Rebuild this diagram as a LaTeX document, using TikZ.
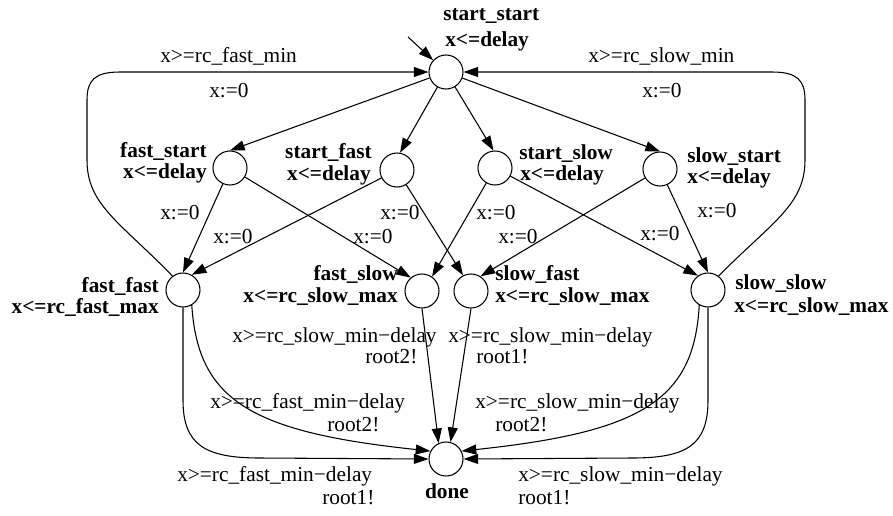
\documentclass[tikz,border=0pt]{standalone}
\usepackage{fontspec}
\setmainfont{Liberation Serif}
\usetikzlibrary{arrows.meta}

\begin{document}
\begin{tikzpicture}
        [x=0.75pt, y=-0.75pt,
        loc/.style={circle, draw, line width=0.8pt, minimum size=25.5pt, inner sep=0pt},
        locname/.style={font=\fontsize{16}{19}\selectfont\bfseries, inner sep=0pt},
        guard/.style={font=\fontsize{16}{19}\selectfont, inner sep=0pt},
        trans/.style={line width=0.8pt, -{Triangle[length=11pt, width=7.5pt]}}]
        \useasboundingbox (0,0) rectangle (893,515);

        \node[loc] (start_start) at (446,72) {};
        \node[loc] (fast_start) at (230,168) {};
        \node[loc] (start_fast) at (397,170) {};
        \node[loc] (start_slow) at (495,168) {};
        \node[loc] (slow_start) at (660,169) {};
        \node[loc] (fast_fast) at (183,290) {};
        \node[loc] (fast_slow) at (422,291) {};
        \node[loc] (slow_fast) at (471,291) {};
        \node[loc] (slow_slow) at (708,290) {};
        \node[loc] (done) at (446,459) {};

        % names and invariants
        \node[locname, anchor=base west] (ss_name) at (443,20) {start\_start};
        \node[locname, anchor=base west] (ss_inv) at (445,46) {x<=delay};
        \node[locname, anchor=base east] (fs_name) at (207,157) {fast\_start};
        \node[locname, anchor=base east] (fs_inv) at (207,178) {x<=delay};
        \node[locname, anchor=base east] (sf_name) at (372,158) {start\_fast};
        \node[locname, anchor=base east] (sf_inv) at (371,180) {x<=delay};
        \node[locname, anchor=base west] (ssl_name) at (519,159) {start\_slow};
        \node[locname, anchor=base west] (ssl_inv) at (520,180) {x<=delay};
        \node[locname, anchor=base west] (sls_name) at (687,162) {slow\_start};
        \node[locname, anchor=base west] (sls_inv) at (687,183) {x<=delay};
        \node[locname, anchor=base east] (ff_name) at (159,292) {fast\_fast};
        \node[locname, anchor=base east] (ff_inv) at (159,313) {x<=rc\_fast\_max};
        \node[locname, anchor=base east] (fsl_name) at (398,280) {fast\_slow};
        \node[locname, anchor=base east] (fsl_inv) at (398,302) {x<=rc\_slow\_max};
        \node[locname, anchor=base west] (sfa_name) at (495,280) {slow\_fast};
        \node[locname, anchor=base west] (sfa_inv) at (495,302) {x<=rc\_slow\_max};
        \node[locname, anchor=base west] (sl_name) at (735,289) {slow\_slow};
        \node[locname, anchor=base west] (sl_inv) at (734,312) {x<=rc\_slow\_max};
        \node[locname, anchor=base] (done_name) at (447,498) {done};

        \coordinate (init) at (408,37);
        \draw[trans] (init) -- (start_start);

        \draw[trans] (start_start) -- (fast_start.north);
        \draw[trans] (start_start) -- (start_fast.80);
        \draw[trans] (start_start) -- (start_slow.95);
        \draw[trans] (start_start) -- (slow_start.north);

        \draw[trans] (fast_start) -- (fast_fast.north);
        \draw[trans] (fast_start) -- (fast_slow.130);
        \draw[trans] (start_fast) -- (fast_fast.60);
        \draw[trans] (start_fast) -- (slow_fast.117);
        \draw[trans] (start_slow) -- (fast_slow.55);
        \draw[trans] (start_slow) -- (slow_slow.125);
        \draw[trans] (slow_start) -- (slow_fast.57);
        \draw[trans] (slow_start) -- (slow_slow.north);

        % back to start
        \draw[trans] (fast_fast.127) .. controls (120,222) and (87,205) .. (87,160) -- (87,100)
            .. controls (87,80) and (95,72) .. (120,72) -- (start_start.west);
        \draw[trans] (slow_slow.53) .. controls (772,222) and (805,205) .. (805,160) -- (805,100)
            .. controls (805,80) and (797,72) .. (772,72) -- (start_start.east);

        % into done
        \draw[trans] (fast_fast.south) -- (183,400) .. controls (183,445) and (205,458) .. (260,458) -- (done.west);
        \draw[trans] (fast_fast.-60) .. controls (198,400) and (250,432) .. (done.153);
        \draw[trans] (fast_slow.south) -- (done.115);
        \draw[trans] (slow_fast.south) -- (done.75);
        \draw[trans] (slow_slow.-120) .. controls (694,400) and (642,432) .. (done.27);
        \draw[trans] (slow_slow.south) -- (708,400) .. controls (708,445) and (687,458) .. (632,458) -- (done.east);

        % guards, syncs, updates
        \node[guard, anchor=base west] (g_ff) at (160,62) {x>=rc\_fast\_min};
        \node[guard, anchor=base west] (u_ff) at (209,97) {x:=0};
        \node[guard, anchor=base west] (g_sl) at (588,62) {x>=rc\_slow\_min};
        \node[guard, anchor=base west] (u_sl) at (642,97) {x:=0};
        \node[guard, anchor=base west] (u_fs_ff) at (160,219) {x:=0};
        \node[guard, anchor=base west] (u_sf_ff) at (213,243) {x:=0};
        \node[guard, anchor=base west] (u_sf_sfa) at (380,219) {x:=0};
        \node[guard, anchor=base west] (u_fs_fsl) at (353,243) {x:=0};
        \node[guard, anchor=base west] (u_ssl_fsl) at (476,219) {x:=0};
        \node[guard, anchor=base west] (u_sls_sfa) at (498,243) {x:=0};
        \node[guard, anchor=base west] (u_sls_sl) at (697,217) {x:=0};
        \node[guard, anchor=base west] (u_ssl_sl) at (640,240) {x:=0};
        \node[guard, anchor=base west] (g_fsl) at (232,342) {x>=rc\_slow\_min−delay};
        \node[guard, anchor=base west] (s_fsl) at (365,363) {root2!};
        \node[guard, anchor=base west] (g_sfa) at (448,342) {x>=rc\_slow\_min−delay};
        \node[guard, anchor=base west] (s_sfa) at (476,363) {root1!};
        \node[guard, anchor=base west] (g_ff_in) at (210,408) {x>=rc\_fast\_min−delay};
        \node[guard, anchor=base west] (s_ff_in) at (327,431) {root2!};
        \node[guard, anchor=base west] (g_ff_out) at (177,481) {x>=rc\_fast\_min−delay};
        \node[guard, anchor=base west] (s_ff_out) at (322,504) {root1!};
        \node[guard, anchor=base west] (g_sl_in) at (475,408) {x>=rc\_slow\_min−delay};
        \node[guard, anchor=base west] (s_sl_in) at (495,431) {root2!};
        \node[guard, anchor=base west] (g_sl_out) at (518,481) {x>=rc\_slow\_min−delay};
        \node[guard, anchor=base west] (s_sl_out) at (518,504) {root1!};
    \end{tikzpicture}
\end{document}
